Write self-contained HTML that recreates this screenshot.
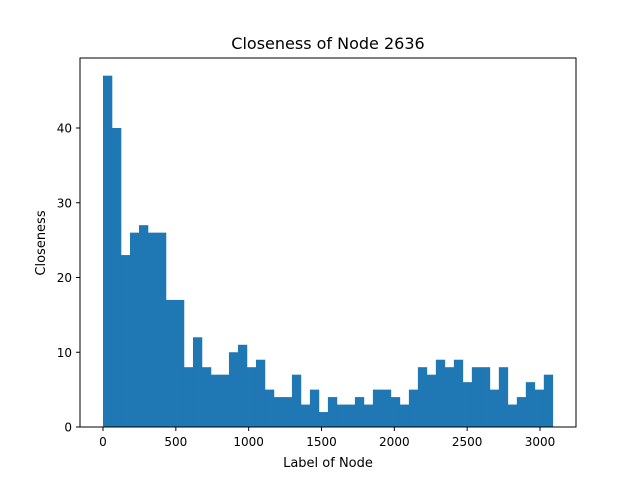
<!DOCTYPE html>
<html><head><meta charset="utf-8"><style>
body{margin:0;background:#fff;font-family:"Liberation Sans","DejaVu Sans",sans-serif;}
</style></head><body>
<svg width="640" height="480" xmlns="http://www.w3.org/2000/svg">
<rect width="640" height="480" fill="#fff"/>
<text x="328" y="49" font-size="16" text-anchor="middle" font-family="DejaVu Sans, sans-serif">Closeness of Node 2636</text>
<g id="bars"></g>
<g id="xt"></g>
<g id="yt"></g>
<rect x="80" y="58" width="496" height="369" fill="none" stroke="#000" stroke-width="1"/>
<text x="328" y="467" font-size="13" text-anchor="middle" font-family="DejaVu Sans, sans-serif">Label of Node</text>
<text transform="translate(45,243) rotate(-90)" font-size="13" text-anchor="middle" font-family="DejaVu Sans, sans-serif">Closeness</text>
</svg>
<script>
const counts=[47,40,23,26,27,26,26,17,17,8,12,8,7,7,10,11,8,9,5,4,4,7,3,5,2,4,3,3,4,3,5,5,4,3,5,8,7,9,8,9,6,8,8,5,8,3,4,6,5,7];
const binStart=0, binEnd=3088;
const xTicks=[0,500,1000,1500,2000,2500,3000];
const yTicks=[0,10,20,30,40];
const NS="http://www.w3.org/2000/svg";
const xs=v=>103+v*(437/3000);
const ys=v=>427-v*(299/40);
const bw=(binEnd-binStart)/counts.length;
const bars=document.getElementById('bars');
counts.forEach((c,i)=>{
  const r=document.createElementNS(NS,'rect');
  const x0=xs(binStart+i*bw), x1=xs(binStart+(i+1)*bw);
  r.setAttribute('x',x0);r.setAttribute('width',x1-x0+0.3);
  r.setAttribute('y',ys(c));r.setAttribute('height',427-ys(c));
  r.setAttribute('fill','#1f77b4');
  
  
  bars.appendChild(r);
});
const xt=document.getElementById('xt');
xTicks.forEach(t=>{
  const x=xs(t);
  const l=document.createElementNS(NS,'line');
  l.setAttribute('x1',x);l.setAttribute('x2',x);l.setAttribute('y1',427);l.setAttribute('y2',431);l.setAttribute('stroke','#000');
  
  
  xt.appendChild(l);
  const s=document.createElementNS(NS,'text');
  s.setAttribute('x',x);s.setAttribute('y',446);s.setAttribute('font-size','12');s.setAttribute('text-anchor','middle');s.setAttribute('font-family','DejaVu Sans, sans-serif');
  s.textContent=t;
  
  
  xt.appendChild(s);
});
const yt=document.getElementById('yt');
yTicks.forEach(t=>{
  const y=ys(t);
  const l=document.createElementNS(NS,'line');
  l.setAttribute('x1',76);l.setAttribute('x2',80);l.setAttribute('y1',y);l.setAttribute('y2',y);l.setAttribute('stroke','#000');
  
  
  yt.appendChild(l);
  const s=document.createElementNS(NS,'text');
  s.setAttribute('x',72);s.setAttribute('y',y+4.5);s.setAttribute('font-size','12');s.setAttribute('text-anchor','end');s.setAttribute('font-family','DejaVu Sans, sans-serif');
  s.textContent=t;
  
  
  yt.appendChild(s);
});
</script>
</body></html>
